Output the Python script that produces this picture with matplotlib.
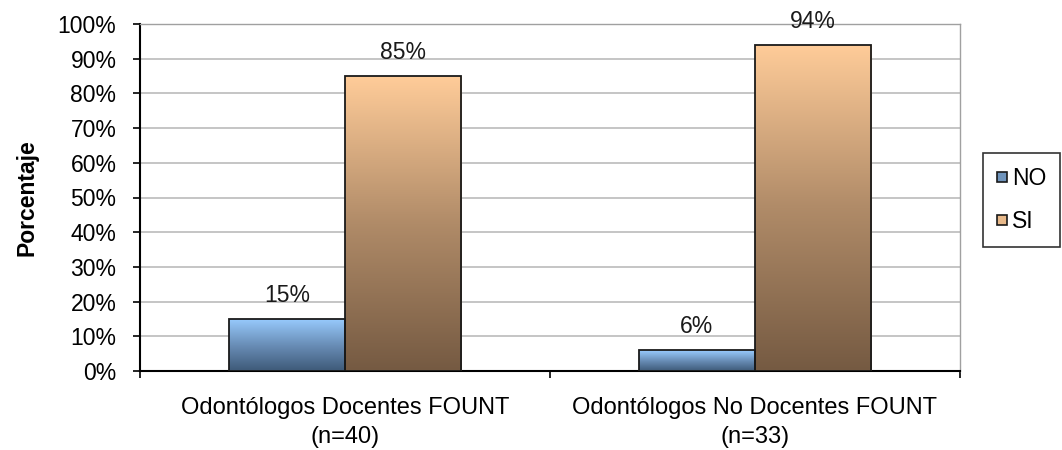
import matplotlib
matplotlib.use("Agg")
import matplotlib.pyplot as plt
import numpy as np
from matplotlib.colors import LinearSegmentedColormap
from matplotlib.ticker import FixedLocator, PercentFormatter
from matplotlib.lines import Line2D

categories = ["Odontólogos Docentes FOUNT\n(n=40)", "Odontólogos No Docentes FOUNT\n(n=33)"]
series_names = ["NO", "SI"]
no_values = [15, 6]
si_values = [85, 94]
yticks = [0, 10, 20, 30, 40, 50, 60, 70, 80, 90, 100]

plt.rcParams['font.family'] = ['Liberation Sans', 'DejaVu Sans']
FS = 16.5

fig = plt.figure(figsize=(10.62, 4.5), dpi=100)
ax = fig.add_axes([140/1062, (450-371)/450, (960-140)/1062, (371-24)/450])

x = np.arange(len(categories))
w = 0.283
grads = {
    "NO": LinearSegmentedColormap.from_list("no", ["#3E5A78", "#6A8FB8", "#99CCFF"]),
    "SI": LinearSegmentedColormap.from_list("si", ["#755A42", "#B08B68", "#FFCC99"]),
}
legend_colors = {"NO": "#6F94BC", "SI": "#E8B98A"}

ax.set_xlim(-0.5, len(categories) - 0.5)
ax.set_ylim(0, 100)

for name, vals, off in [("NO", no_values, -w/2), ("SI", si_values, w/2)]:
    bars = ax.bar(x + off, vals, width=w, facecolor="none", edgecolor="#1a1a1a", linewidth=1.3, zorder=4)
    for b, v in zip(bars, vals):
        x0 = b.get_x()
        grad = np.linspace(0, 1, 256).reshape(-1, 1)
        im = ax.imshow(grad, cmap=grads[name], origin="lower", aspect="auto",
                       extent=[x0, x0 + b.get_width(), 0, v], zorder=3)
        im.set_clip_path(b)
        ax.annotate(f"{v}%", xy=(x0 + b.get_width()/2, v), xytext=(0, 8.5),
                    textcoords="offset points", ha="center", va="bottom",
                    fontsize=FS, color="#1a1a1a", zorder=5, annotation_clip=False)

ax.set_xlim(-0.5, len(categories) - 0.5)
ax.set_ylim(0, 100)

ax.yaxis.set_major_locator(FixedLocator(yticks))
ax.yaxis.set_major_formatter(PercentFormatter(decimals=0))
ax.grid(axis="y", color="#C0C0C0", linewidth=1.3, zorder=0)
ax.set_axisbelow(True)

ax.set_xticks(x)
ax.set_xticklabels(categories, fontsize=17, linespacing=1.4)
ax.tick_params(axis="x", which="major", length=0, pad=19)
ax.set_xticks([-0.5, 0.5, 1.5], minor=True)
ax.tick_params(axis="x", which="minor", length=5, width=1.2, direction="out", color="black")
ax.tick_params(axis="y", length=5, width=1.2, direction="out", labelsize=FS, pad=12)

for s in ["left", "bottom"]:
    ax.spines[s].set_color("black")
    ax.spines[s].set_linewidth(1.5)
for s in ["top", "right"]:
    ax.spines[s].set_color("#A0A0A0")
    ax.spines[s].set_linewidth(1.0)

ax.set_ylabel("Porcentaje", fontsize=FS, fontweight="bold", labelpad=14)

handles = [Line2D([0], [0], marker="s", linestyle="none", markersize=7,
                  markerfacecolor=legend_colors[n], markeredgecolor="#1a1a1a", markeredgewidth=1.2)
           for n in series_names]
leg = fig.legend(handles, series_names, loc="upper left", bbox_to_anchor=(983/1062, 1 - 153/450),
                 frameon=True, fancybox=False, edgecolor="black", fontsize=FS,
                 handlelength=0.5, handletextpad=0.15, borderpad=0.6, labelspacing=0.9,
                 borderaxespad=0)
leg.get_frame().set_linewidth(1.2)

fig.savefig("out.png", dpi=100)
